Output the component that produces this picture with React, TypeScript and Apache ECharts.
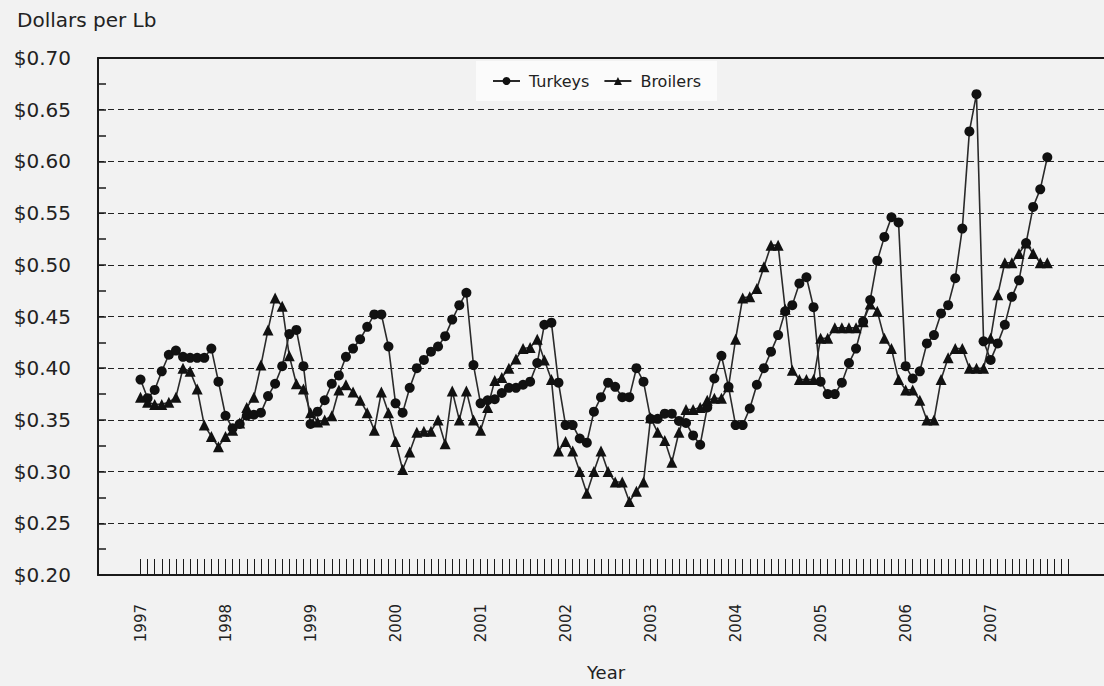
import React, { useEffect, useRef } from "react";
import * as echarts from "echarts";

const YEARS = ["1997", "1998", "1999", "2000", "2001", "2002", "2003", "2004", "2005", "2006", "2007"];

// Monthly prices, Jan 1997 .. Sep 2007 (dollars per lb)
const TURKEYS = [
  0.389, 0.371, 0.379, 0.397, 0.413, 0.417, 0.411, 0.41, 0.41, 0.41, 0.419, 0.387,
  0.354, 0.342, 0.346, 0.354, 0.355, 0.357, 0.373, 0.385, 0.402, 0.433, 0.437, 0.402,
  0.346, 0.358, 0.369, 0.385, 0.393, 0.411, 0.419, 0.428, 0.44, 0.452, 0.452, 0.421,
  0.366, 0.357, 0.381, 0.4, 0.408, 0.416, 0.421, 0.431, 0.447, 0.461, 0.473, 0.403,
  0.366, 0.369, 0.37, 0.376, 0.381, 0.381, 0.384, 0.387, 0.405, 0.442, 0.444, 0.386,
  0.345, 0.345, 0.332, 0.328, 0.358, 0.372, 0.386, 0.382, 0.372, 0.372, 0.4, 0.387,
  0.351, 0.351, 0.356, 0.356, 0.349, 0.347, 0.335, 0.326, 0.362, 0.39, 0.412, 0.382,
  0.345, 0.345, 0.361, 0.384, 0.4, 0.416, 0.432, 0.455, 0.461, 0.482, 0.488, 0.459,
  0.387, 0.375, 0.375, 0.386, 0.405, 0.419, 0.445, 0.466, 0.504, 0.527, 0.546, 0.541,
  0.402, 0.39, 0.397, 0.424, 0.432, 0.453, 0.461, 0.487, 0.535, 0.629, 0.665, 0.426,
  0.408, 0.424, 0.442, 0.469, 0.485, 0.521, 0.556, 0.573, 0.604,
];

const BROILERS = [
  0.372, 0.367, 0.365, 0.365, 0.367, 0.372, 0.4, 0.397, 0.38, 0.345, 0.334, 0.324,
  0.334, 0.34, 0.347, 0.362, 0.372, 0.403, 0.437, 0.468, 0.46, 0.412, 0.385, 0.38,
  0.357, 0.348, 0.35, 0.354, 0.379, 0.384, 0.377, 0.369, 0.357, 0.34, 0.377, 0.357,
  0.329, 0.302, 0.319, 0.338, 0.339, 0.339, 0.35, 0.327, 0.378, 0.35, 0.378, 0.35,
  0.34, 0.362, 0.388, 0.391, 0.4, 0.409, 0.419, 0.42, 0.428, 0.408, 0.389, 0.32,
  0.329, 0.32, 0.3, 0.279, 0.3, 0.32, 0.3, 0.29, 0.29, 0.271, 0.281, 0.29,
  0.352, 0.338, 0.33, 0.309, 0.338, 0.36, 0.36, 0.362, 0.369, 0.371, 0.371, 0.382,
  0.428, 0.468, 0.469, 0.477, 0.498, 0.519, 0.519, 0.457, 0.398, 0.389, 0.389, 0.389,
  0.429, 0.429, 0.439, 0.439, 0.439, 0.439, 0.445, 0.462, 0.455, 0.429, 0.419, 0.389,
  0.379, 0.379, 0.369, 0.35, 0.35, 0.389, 0.41, 0.419, 0.419, 0.4, 0.4, 0.4,
  0.429, 0.471, 0.502, 0.502, 0.511, 0.521, 0.511, 0.502, 0.502,
];

const MONTH_TICKS: number[] = [];
for (let i = 0; i < YEARS.length * 12; i++) MONTH_TICKS.push(i);
const YEAR_TICKS = YEARS.map((_, k) => k * 12);

const FONT = "DejaVu Sans";
const INK = "#1a1a1a";

export default function App() {
  const ref = useRef<HTMLDivElement>(null);

  useEffect(() => {
    if (!ref.current) return;
    const chart = echarts.init(ref.current, undefined, { renderer: "svg" });
    const axisLine = { show: true, onZero: false, lineStyle: { color: INK, width: 2 } };
    chart.setOption({
      animation: false,
      backgroundColor: "#f2f2f2",
      title: {
        text: "Dollars per Lb",
        left: 12,
        top: 5,
        textStyle: { fontFamily: FONT, fontSize: 20, fontWeight: "normal", color: "#222" },
      },
      legend: {
        left: 476,
        top: 61,
        padding: [12, 16, 12, 16],
        backgroundColor: "#fbfbfb",
        itemWidth: 27,
        itemHeight: 10,
        itemGap: 14,
        textStyle: { fontFamily: FONT, fontSize: 16, color: "#222", padding: [0, 0, 0, 4] },
        data: ["Turkeys", "Broilers"],
      },
      grid: { left: 98, top: 58, right: 0, bottom: 111, containLabel: false },
      xAxis: [
        {
          type: "value",
          min: -6,
          max: 136,
          position: "bottom",
          axisLine,
          axisTick: {
            show: true,
            inside: true,
            length: 16,
            customValues: MONTH_TICKS,
            lineStyle: { color: INK, width: 1 },
          },
          axisLabel: {
            customValues: YEAR_TICKS,
            rotate: 90,
            margin: 29,
            fontFamily: FONT,
            fontSize: 15,
            color: "#222",
            formatter: (v: number) => YEARS[Math.round(v / 12)] ?? "",
          },
          splitLine: { show: false },
        },
        {
          type: "value",
          min: -6,
          max: 136,
          position: "top",
          axisLine,
          axisTick: { show: false },
          axisLabel: { show: false },
          splitLine: { show: false },
        },
      ],
      yAxis: {
        type: "value",
        min: 0.2,
        max: 0.7,
        interval: 0.05,
        axisLine,
        axisTick: { show: true, inside: true, length: 8, lineStyle: { color: INK, width: 1.5 } },
        minorTick: { show: true, splitNumber: 2, length: 8, lineStyle: { color: INK, width: 1.5 } },
        splitLine: { show: true, lineStyle: { color: "#222", width: 1.2, type: [6, 4] } },
        axisLabel: {
          margin: 27,
          fontFamily: FONT,
          fontSize: 20,
          color: "#222",
          formatter: (v: number) => "$" + v.toFixed(2),
        },
      },
      graphic: [
        {
          type: "text",
          x: 606,
          y: 672,
          style: {
            text: "Year",
            fontFamily: FONT,
            fontSize: 18,
            fill: "#222",
            textAlign: "center",
            textVerticalAlign: "middle",
          },
        },
      ],
      series: [
        {
          name: "Turkeys",
          type: "line",
          data: TURKEYS.map((v, i) => [i, v]),
          symbol: "circle",
          symbolSize: 10,
          showAllSymbol: true,
          lineStyle: { color: "#2a2a2a", width: 1.6 },
          itemStyle: { color: "#111" },
        },
        {
          name: "Broilers",
          type: "line",
          data: BROILERS.map((v, i) => [i, v]),
          symbol: "triangle",
          symbolSize: 11,
          showAllSymbol: true,
          lineStyle: { color: "#2a2a2a", width: 1.6 },
          itemStyle: { color: "#111" },
        },
      ],
    });
    return () => chart.dispose();
  }, []);

  return (
    <div
      ref={ref}
      style={{ position: "fixed", left: 0, top: 0, width: 1104, height: 686 }}
    />
  );
}
